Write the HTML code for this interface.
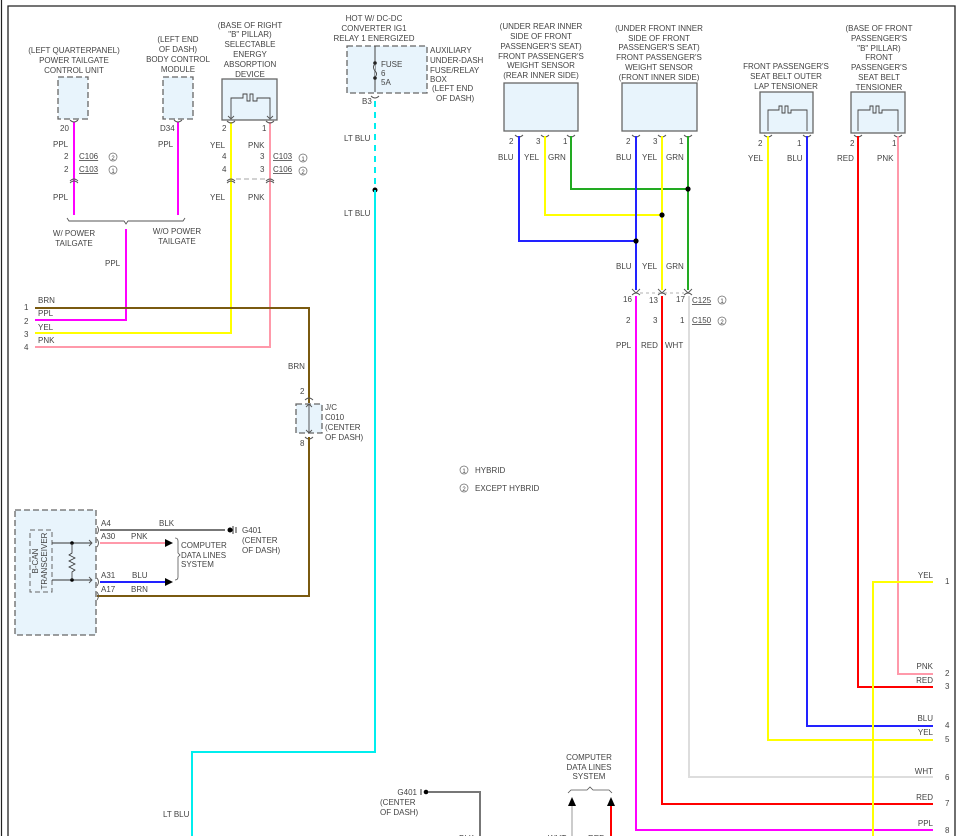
<!DOCTYPE html>
<html><head><meta charset="utf-8"><style>
html,body{margin:0;padding:0;background:#fff;width:961px;height:836px;overflow:hidden}
svg{display:block}
text{font-family:"Liberation Sans",Arial,sans-serif;font-size:8px;fill:#444}
.c{text-anchor:middle}.r{text-anchor:end}
.box{fill:#e8f4fc;stroke:#666;stroke-width:1.3}
.dbox{fill:#e8f4fc;stroke:#666;stroke-width:1.3;stroke-dasharray:6 3}
.w{fill:none;stroke-width:2}
.cn{fill:none;stroke:#555;stroke-width:0.9}
</style></head><body>
<svg width="961" height="836" viewBox="0 0 961 836">
<!-- frame -->
<line x1="1.5" y1="0" x2="1.5" y2="836" stroke="#222" stroke-width="1.2"/>
<polyline points="8,836 8,6 955,6 955,836" fill="none" stroke="#222" stroke-width="1.3"/>

<!-- Left quarterpanel -->
<text class="c" x="74" y="53">(LEFT QUARTERPANEL)</text>
<text class="c" x="74" y="63">POWER TAILGATE</text>
<text class="c" x="74" y="73">CONTROL UNIT</text>
<rect class="dbox" x="58" y="77" width="30" height="42"/>
<text x="60" y="131">20</text>
<text x="53" y="147">PPL</text>
<text x="64" y="159">2</text><text x="79" y="159" text-decoration="underline">C106</text>
<text x="64" y="172">2</text><text x="79" y="172" text-decoration="underline">C103</text>
<circle cx="113" cy="157" r="4" fill="none" stroke="#666" stroke-width=".7"/><text class="c" x="113" y="160" style="font-size:6px">2</text>
<circle cx="113" cy="170" r="4" fill="none" stroke="#666" stroke-width=".7"/><text class="c" x="113" y="173" style="font-size:6px">1</text>
<text x="53" y="200">PPL</text>
<!-- BCM -->
<text class="c" x="178" y="42">(LEFT END</text>
<text class="c" x="178" y="52">OF DASH)</text>
<text class="c" x="178" y="62">BODY CONTROL</text>
<text class="c" x="178" y="72">MODULE</text>
<rect class="dbox" x="163" y="77" width="30" height="42"/>
<text x="160" y="131">D34</text>
<text x="158" y="147">PPL</text>
<!-- SEAD -->
<text class="c" x="250" y="28">(BASE OF RIGHT</text>
<text class="c" x="250" y="37">"B" PILLAR)</text>
<text class="c" x="250" y="47">SELECTABLE</text>
<text class="c" x="250" y="57">ENERGY</text>
<text class="c" x="250" y="67">ABSORPTION</text>
<text class="c" x="250" y="77">DEVICE</text>
<rect class="box" x="222" y="79" width="55" height="41"/>
<polyline points="231,118 231,98 243,98 243,94 247,94 247,101 250,101 250,94 253,94 253,101 257,101 257,98 270,98 270,118" fill="none" stroke="#444" stroke-width="0.9"/>
<text x="222" y="131">2</text><text x="262" y="131">1</text>
<text x="210" y="148">YEL</text><text x="248" y="148">PNK</text>
<text x="222" y="159">4</text><text x="260" y="159">3</text>
<text x="273" y="159" text-decoration="underline">C103</text>
<text x="222" y="172">4</text><text x="260" y="172">3</text>
<text x="273" y="172" text-decoration="underline">C106</text>
<circle cx="303" cy="158" r="4" fill="none" stroke="#666" stroke-width=".7"/><text class="c" x="303" y="161" style="font-size:6px">1</text>
<circle cx="303" cy="171" r="4" fill="none" stroke="#666" stroke-width=".7"/><text class="c" x="303" y="174" style="font-size:6px">2</text>
<line x1="236" y1="179" x2="265" y2="179" stroke="#888" stroke-dasharray="5 3" stroke-width=".8"/>
<text x="210" y="200">YEL</text><text x="248" y="200">PNK</text>

<!-- brace -->
<polyline points="67,218 69,221 124,221 126,224 128,221 183,221 185,218" fill="none" stroke="#555" stroke-width=".9"/>
<text class="c" x="74" y="236">W/ POWER</text><text class="c" x="74" y="246">TAILGATE</text>
<text class="c" x="177" y="234">W/O POWER</text><text class="c" x="177" y="244">TAILGATE</text>
<text x="105" y="266">PPL</text>

<!-- wires left -->
<line class="w" stroke="#f0f" x1="74" y1="122" x2="74" y2="215"/>
<line class="w" stroke="#f0f" x1="178" y1="122" x2="178" y2="215"/>
<polyline class="w" stroke="#f0f" points="126,229 126,320 35,320"/>
<polyline class="w" stroke="#ff0" points="231,122 231,333 35,333"/>
<polyline class="w" stroke="#f9a" points="270,122 270,347 35,347"/>
<polyline class="w" stroke="#7a5a10" points="35,308 309,308 309,403"/>
<text x="38" y="303">BRN</text><text x="38" y="316">PPL</text><text x="38" y="330">YEL</text><text x="38" y="343">PNK</text>
<text x="24" y="310">1</text><text x="24" y="324">2</text><text x="24" y="337">3</text><text x="24" y="350">4</text>

<!-- connector marks -->
<g class="cn">
<path d="M70,120 q4,4 8,0 M174,120 q4,4 8,0 M227,121 q4,4 8,0 M266,121 q4,4 8,0"/>
<path d="M70,181 q4,-4 8,0 M70,183 q4,-4 8,0 M227,181 q4,-4 8,0 M227,183 q4,-4 8,0 M266,181 q4,-4 8,0 M266,183 q4,-4 8,0"/>
<path d="M228,116 l3,3 l3,-3 M267,116 l3,3 l3,-3"/>
</g>

<!-- fuse box -->
<text class="c" x="374" y="21">HOT W/ DC-DC</text>
<text class="c" x="374" y="31">CONVERTER IG1</text>
<text class="c" x="374" y="41">RELAY 1 ENERGIZED</text>
<rect class="dbox" x="347" y="46" width="80" height="47"/>
<line x1="375" y1="46" x2="375" y2="92" stroke="#444" stroke-width="1"/>
<circle cx="375" cy="63" r="1.8" fill="#222"/><circle cx="375" cy="78" r="1.8" fill="#222"/>
<path d="M375,64 q-3,3 0,7 q3,3 0,6" fill="#e8f4fc" stroke="#444"/>
<text x="381" y="67">FUSE</text><text x="381" y="76">6</text><text x="381" y="85">5A</text>
<path class="cn" d="M371,96 q4,4 8,0"/>
<text x="362" y="104">B3</text>
<text x="430" y="53">AUXILIARY</text><text x="430" y="63">UNDER-DASH</text><text x="430" y="73">FUSE/RELAY</text><text x="430" y="82">BOX</text><text x="432" y="91">(LEFT END</text><text x="436" y="101">OF DASH)</text>
<line x1="375" y1="101" x2="375" y2="190" stroke="#0ee" stroke-width="2" stroke-dasharray="6 5"/>
<circle cx="375" cy="190" r="2.5" fill="#000"/>
<polyline class="w" stroke="#0ee" points="375,190 375,752 192,752 192,836"/>
<text x="344" y="141">LT BLU</text><text x="344" y="216">LT BLU</text>
<text x="163" y="817">LT BLU</text>

<!-- J/C -->
<text x="300" y="394">2</text><text x="300" y="446">8</text>
<rect class="dbox" x="296" y="404" width="26" height="29"/>
<path class="cn" d="M305,400 q4,-4 8,0 M305,437 q4,4 8,0"/>
<line x1="309" y1="404" x2="309" y2="433" stroke="#444" stroke-width=".9"/>
<path class="cn" d="M306,407 l3,-3 l3,3 M306,430 l3,3 l3,-3"/>
<text x="325" y="410">J/C</text><text x="325" y="420">C010</text><text x="325" y="430">(CENTER</text><text x="325" y="440">OF DASH)</text>
<polyline class="w" stroke="#7a5a10" points="309,437 309,596 97,596"/>
<text x="288" y="369">BRN</text>

<!-- gauge -->
<rect class="dbox" x="15" y="510" width="81" height="125"/>
<rect x="30" y="530" width="22" height="62" fill="none" stroke="#666" stroke-dasharray="5 3" stroke-width="1"/>
<text transform="translate(38,561) rotate(-90)" class="c">B-CAN</text>
<text transform="translate(47,561) rotate(-90)" class="c">TRANSCEIVER</text>
<polyline points="52,543 92,543" fill="none" stroke="#333" stroke-width=".9"/>
<polyline points="52,580 92,580" fill="none" stroke="#333" stroke-width=".9"/>
<circle cx="72" cy="543" r="1.8" fill="#000"/><circle cx="72" cy="580" r="1.8" fill="#000"/>
<polyline points="72,543 72,553 69,555 75,558 69,561 75,564 69,567 75,570 72,572 72,580" fill="none" stroke="#333" stroke-width=".8"/>
<path class="cn" d="M89,540 l3,3 l-3,3 M89,577 l3,3 l-3,3"/>
<path class="cn" d="M97,526 q3,4 0,8 M97,539 q3,4 0,8 M97,578 q3,4 0,8 M97,592 q3,4 0,8"/>
<text x="101" y="526">A4</text><text x="101" y="539">A30</text><text x="101" y="578">A31</text><text x="101" y="592">A17</text>
<text x="159" y="526">BLK</text><text x="131" y="539">PNK</text><text x="132" y="578">BLU</text><text x="131" y="592">BRN</text>
<line x1="100" y1="530" x2="225" y2="530" stroke="#777" stroke-width="2"/>
<circle cx="230" cy="530" r="2.5" fill="#000"/><path d="M233,526 v8 M236,527 v6" stroke="#000" stroke-width=".8"/>
<text x="242" y="533">G401</text><text x="242" y="543">(CENTER</text><text x="242" y="553">OF DASH)</text>
<line x1="100" y1="543" x2="165" y2="543" stroke="#f9a" stroke-width="2"/>
<polygon points="165,539 173,543 165,547" fill="#000"/>
<line x1="100" y1="582" x2="165" y2="582" stroke="#22f" stroke-width="2"/>
<polygon points="165,578 173,582 165,586" fill="#000"/>
<path d="M175,538 q3,0 3,3 v12 l2,2 l-2,2 v20 q0,3 -3,3" fill="none" stroke="#555" stroke-width=".8"/>
<text x="181" y="548">COMPUTER</text><text x="181" y="558">DATA LINES</text><text x="181" y="567">SYSTEM</text>

<!-- legend -->
<circle cx="464" cy="470" r="4" fill="none" stroke="#666" stroke-width=".7"/><text class="c" x="464" y="473" style="font-size:6px">1</text>
<text x="475" y="473">HYBRID</text>
<circle cx="464" cy="488" r="4" fill="none" stroke="#666" stroke-width=".7"/><text class="c" x="464" y="491" style="font-size:6px">2</text>
<text x="475" y="491">EXCEPT HYBRID</text>

<!-- weight sensors -->
<text class="c" x="541" y="29">(UNDER REAR INNER</text>
<text class="c" x="541" y="39">SIDE OF FRONT</text>
<text class="c" x="541" y="49">PASSENGER'S SEAT)</text>
<text class="c" x="541" y="59">FRONT PASSENGER'S</text>
<text class="c" x="541" y="68">WEIGHT SENSOR</text>
<text class="c" x="541" y="78">(REAR INNER SIDE)</text>
<rect class="box" x="504" y="83" width="74" height="48"/>
<text class="c" x="659" y="31">(UNDER FRONT INNER</text>
<text class="c" x="659" y="41">SIDE OF FRONT</text>
<text class="c" x="659" y="50">PASSENGER'S SEAT)</text>
<text class="c" x="659" y="60">FRONT PASSENGER'S</text>
<text class="c" x="659" y="70">WEIGHT SENSOR</text>
<text class="c" x="659" y="80">(FRONT INNER SIDE)</text>
<rect class="box" x="622" y="83" width="75" height="48"/>
<g class="cn"><path d="M515,135 q4,4 8,0 M541,135 q4,4 8,0 M567,135 q4,4 8,0 M632,135 q4,4 8,0 M658,135 q4,4 8,0 M684,135 q4,4 8,0"/></g>
<text x="509" y="144">2</text><text x="536" y="144">3</text><text x="563" y="144">1</text>
<text x="626" y="144">2</text><text x="653" y="144">3</text><text x="679" y="144">1</text>
<text x="498" y="160">BLU</text><text x="524" y="160">YEL</text><text x="548" y="160">GRN</text>
<text x="616" y="160">BLU</text><text x="642" y="160">YEL</text><text x="666" y="160">GRN</text>
<polyline class="w" stroke="#2a2" points="571,136 571,189 688,189"/>
<polyline class="w" stroke="#ff0" points="545,136 545,215 662,215"/>
<polyline class="w" stroke="#22f" points="519,136 519,241 636,241"/>
<line class="w" stroke="#2a2" x1="688" y1="136" x2="688" y2="290"/>
<line class="w" stroke="#ff0" x1="662" y1="136" x2="662" y2="290"/>
<line class="w" stroke="#22f" x1="636" y1="136" x2="636" y2="290"/>
<circle cx="688" cy="189" r="2.6" fill="#000"/><circle cx="662" cy="215" r="2.6" fill="#000"/><circle cx="636" cy="241" r="2.6" fill="#000"/>
<text x="616" y="269">BLU</text><text x="642" y="269">YEL</text><text x="666" y="269">GRN</text>
<g class="cn"><path d="M632,289 l4,4 l4,-4 M658,289 l4,4 l4,-4 M684,289 l4,4 l4,-4 M632,295 q4,-4 8,0 M658,295 q4,-4 8,0 M684,295 q4,-4 8,0"/></g>
<line x1="640" y1="293" x2="684" y2="293" stroke="#999" stroke-dasharray="3 3" stroke-width=".7"/>
<text x="623" y="302">16</text><text x="649" y="303">13</text><text x="676" y="302">17</text>
<text x="692" y="303" text-decoration="underline">C125</text>
<circle cx="722" cy="300" r="4" fill="none" stroke="#666" stroke-width=".7"/><text class="c" x="722" y="303" style="font-size:6px">1</text>
<text x="626" y="323">2</text><text x="653" y="323">3</text><text x="680" y="323">1</text>
<text x="692" y="323" text-decoration="underline">C150</text>
<circle cx="722" cy="321" r="4" fill="none" stroke="#666" stroke-width=".7"/><text class="c" x="722" y="324" style="font-size:6px">2</text>
<text x="616" y="348">PPL</text><text x="641" y="348">RED</text><text x="665" y="348">WHT</text>

<!-- tensioners -->
<text class="c" x="786" y="69">FRONT PASSENGER'S</text>
<text class="c" x="786" y="79">SEAT BELT OUTER</text>
<text class="c" x="786" y="89">LAP TENSIONER</text>
<rect class="box" x="760" y="92" width="53" height="41"/>
<polyline points="768,131 768,110 779,110 779,106 782,106 782,113 785,113 785,106 788,106 788,113 791,113 791,110 807,110 807,131" fill="none" stroke="#444" stroke-width=".9"/>
<text class="c" x="879" y="31">(BASE OF FRONT</text>
<text class="c" x="879" y="41">PASSENGER'S</text>
<text class="c" x="879" y="51">"B" PILLAR)</text>
<text class="c" x="879" y="60">FRONT</text>
<text class="c" x="879" y="70">PASSENGER'S</text>
<text class="c" x="879" y="80">SEAT BELT</text>
<text class="c" x="879" y="90">TENSIONER</text>
<rect class="box" x="851" y="92" width="54" height="41"/>
<polyline points="858,131 858,110 870,110 870,106 873,106 873,113 876,113 876,106 879,106 879,113 882,113 882,110 898,110 898,131" fill="none" stroke="#444" stroke-width=".9"/>
<g class="cn"><path d="M764,135 q4,4 8,0 M803,135 q4,4 8,0 M854,135 q4,4 8,0 M894,135 q4,4 8,0"/></g>
<text x="758" y="146">2</text><text x="797" y="146">1</text><text x="850" y="146">2</text><text x="892" y="146">1</text>
<text x="748" y="161">YEL</text><text x="787" y="161">BLU</text><text x="837" y="161">RED</text><text x="877" y="161">PNK</text>

<!-- long wires to right -->
<polyline class="w" stroke="#f0f" points="636,296 636,830 933,830"/>
<polyline class="w" stroke="#f00" points="662,296 662,804 933,804"/>
<polyline class="w" stroke="#ddd" points="689,296 689,777 933,777"/>
<polyline class="w" stroke="#ff0" points="768,136 768,740 933,740"/>
<polyline class="w" stroke="#22f" points="807,136 807,726 933,726"/>
<polyline class="w" stroke="#f00" points="858,136 858,687 933,687"/>
<polyline class="w" stroke="#f9a" points="898,136 898,674 933,674"/>
<polyline class="w" stroke="#ff0" points="933,582 873,582 873,836"/>
<g>
<text class="r" x="933" y="578">YEL</text><text x="945" y="584">1</text>
<text class="r" x="933" y="669">PNK</text><text x="945" y="676">2</text>
<text class="r" x="933" y="683">RED</text><text x="945" y="689">3</text>
<text class="r" x="933" y="721">BLU</text><text x="945" y="728">4</text>
<text class="r" x="933" y="735">YEL</text><text x="945" y="742">5</text>
<text class="r" x="933" y="774">WHT</text><text x="945" y="780">6</text>
<text class="r" x="933" y="800">RED</text><text x="945" y="806">7</text>
<text class="r" x="933" y="826">PPL</text><text x="945" y="833">8</text>
</g>

<!-- bottom middle -->
<text class="r" x="417" y="795">G401</text>
<text x="380" y="805">(CENTER</text><text x="380" y="815">OF DASH)</text>
<path d="M421,789 v6" stroke="#000" stroke-width=".8"/><circle cx="426" cy="792" r="2.3" fill="#000"/>
<polyline points="428,792 480,792 480,836" fill="none" stroke="#777" stroke-width="2"/>
<text class="c" x="589" y="760">COMPUTER</text><text class="c" x="589" y="770">DATA LINES</text><text class="c" x="589" y="779">SYSTEM</text>
<path d="M568,793 l3,-3 h16 l3,-3 l3,3 h16 l3,3" fill="none" stroke="#555" stroke-width=".8"/>
<polygon points="568,806 572,797 576,806" fill="#000"/><polygon points="607,806 611,797 615,806" fill="#000"/>
<line x1="572" y1="806" x2="572" y2="836" stroke="#ccc" stroke-width="2"/>
<line x1="611" y1="806" x2="611" y2="836" stroke="#f00" stroke-width="2"/>
<text x="459" y="841">BLK</text><text x="548" y="841">WHT</text><text x="588" y="841">RED</text>
</svg>
</body></html>
